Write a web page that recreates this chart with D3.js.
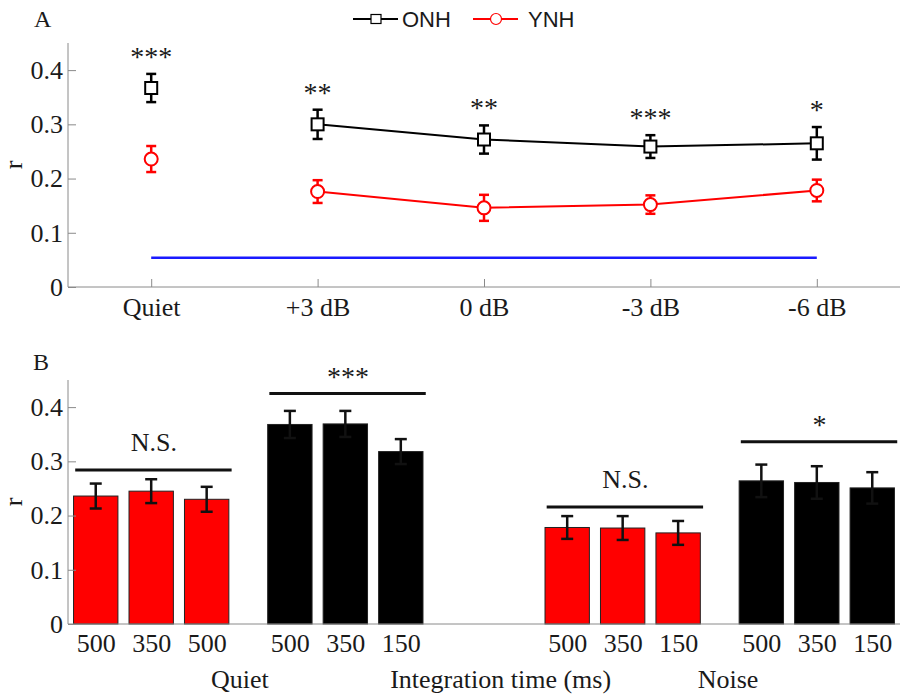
<!DOCTYPE html>
<html>
<head>
<meta charset="utf-8">
<script src="https://cdn.jsdelivr.net/npm/d3@7"></script>
<style>
	body { margin: 0; background: #fff; }
	svg text { font-family: "Liberation Serif", "Times New Roman", serif; fill: #1a1a1a; }
	.legend text { font-family: "Liberation Sans", Arial, sans-serif; }
	.axis path, .axis line { stroke: #8a8a8a; }
</style>
</head>
<body>
<svg id="chart" width="900" height="699"></svg>
<script>
// panel A: r by listening condition
var conditions = ["Quiet", "+3 dB", "0 dB", "-3 dB", "-6 dB"];
var onhMean = [0.367, 0.300, 0.272, 0.259, 0.265];
var onhErr = [0.026, 0.027, 0.026, 0.021, 0.030];
var ynhMean = [0.236, 0.176, 0.146, 0.152, 0.178];
var ynhErr = [0.024, 0.021, 0.024, 0.017, 0.020];
var starsA = ["***", "**", "**", "***", "*"];
var chanceLevel = 0.054;
var rTicks = [0, 0.1, 0.2, 0.3, 0.4];

// panel B: r by integration time
var barLabels = ["500", "350", "500", "500", "350", "150", "500", "350", "150", "500", "350", "150"];
var barSlots = [0, 1, 2, 3.5, 4.5, 5.5, 8.5, 9.5, 10.5, 12, 13, 14];
var barGroups = ["YNH", "YNH", "YNH", "ONH", "ONH", "ONH", "YNH", "YNH", "YNH", "ONH", "ONH", "ONH"];
var barValues = [0.236, 0.245, 0.230, 0.368, 0.369, 0.318, 0.178, 0.177, 0.168, 0.264, 0.261, 0.251];
var barErr = [0.023, 0.022, 0.023, 0.025, 0.024, 0.023, 0.021, 0.022, 0.022, 0.030, 0.030, 0.029];
var sigFrom = [0, 3.5, 8.5, 12];
var sigTo = [2, 5.5, 10.5, 14];
var sigLevel = [0.284, 0.425, 0.216, 0.336];
var sigText = ["N.S.", "***", "N.S.", "*"];
var groupNames = ["Quiet", "Integration time (ms)", "Noise"];
var groupSlots = [2.6, 7.3, 11.4];

var colors = { ONH: "#000000", YNH: "#ff0000" };
var fs = 26;

var svg = d3.select("#chart");

function yAxis(g, y) {
	var axis = d3.axisLeft(y).tickValues(rTicks).tickSize(-8).tickPadding(5)
		.tickFormat(function(d) { return d === 0 ? "0" : d3.format(".1f")(d); });
	g.call(axis);
	g.select(".domain").attr("d", "M0," + y.range()[0] + "V" + y.range()[1]);
	g.selectAll("text").attr("font-size", fs);
}

// ---------- panel A ----------
var xA = d3.scaleLinear().domain([-0.5, 4.5]).range([68, 900]);
var yA = d3.scaleLinear().domain([0, 0.45]).range([287, 43]);

var gA = svg.append("g");
gA.append("g").attr("class", "axis").attr("transform", "translate(68,0)").call(function(g) { yAxis(g, yA); });
var axA = gA.append("g").attr("class", "axis").attr("transform", "translate(0,287)")
	.call(d3.axisBottom(xA).tickValues(d3.range(conditions.length)).tickSize(-8).tickPadding(11)
		.tickFormat(function(d) { return conditions[d]; }));
axA.select(".domain").attr("d", "M68,0H900");
axA.selectAll("text").attr("font-size", fs);

gA.append("text").attr("x", 34).attr("y", 27).attr("font-size", 24).text("A");
gA.append("text").attr("transform", "translate(22,165) rotate(-90)").attr("text-anchor", "middle").attr("font-size", fs).text("r");

gA.append("line")
	.attr("x1", xA(0)).attr("x2", xA(conditions.length - 1))
	.attr("y1", yA(chanceLevel)).attr("y2", yA(chanceLevel))
	.attr("stroke", "#1a1aff").attr("stroke-width", 2.5);

function drawSeries(mean, err, color, marker) {
	var pts = mean.map(function(v, i) { return { i: i, v: v, e: err[i] }; });
	var line = d3.line().x(function(d) { return xA(d.i); }).y(function(d) { return yA(d.v); });
	gA.append("path").attr("d", line(pts.slice(1)))
		.attr("fill", "none").attr("stroke", color).attr("stroke-width", 2);
	var eb = gA.append("g").selectAll("g").data(pts).enter().append("g");
	eb.append("line")
		.attr("x1", function(d) { return xA(d.i); }).attr("x2", function(d) { return xA(d.i); })
		.attr("y1", function(d) { return yA(d.v + d.e); }).attr("y2", function(d) { return yA(d.v - d.e); })
		.attr("stroke", color).attr("stroke-width", 2.5);
	[1, -1].forEach(function(s) {
		eb.append("line")
			.attr("x1", function(d) { return xA(d.i) - 5; }).attr("x2", function(d) { return xA(d.i) + 5; })
			.attr("y1", function(d) { return yA(d.v + s * d.e); }).attr("y2", function(d) { return yA(d.v + s * d.e); })
			.attr("stroke", color).attr("stroke-width", 2.5);
	});
	if (marker === "square") {
		eb.append("rect")
			.attr("x", function(d) { return xA(d.i) - 6; }).attr("y", function(d) { return yA(d.v) - 6; })
			.attr("width", 12).attr("height", 12)
			.attr("fill", "#fff").attr("stroke", color).attr("stroke-width", 2);
	} else {
		eb.append("circle")
			.attr("cx", function(d) { return xA(d.i); }).attr("cy", function(d) { return yA(d.v); })
			.attr("r", 6.5).attr("fill", "#fff").attr("stroke", color).attr("stroke-width", 2);
	}
}
drawSeries(ynhMean, ynhErr, colors.YNH, "circle");
drawSeries(onhMean, onhErr, colors.ONH, "square");

gA.append("g").selectAll("text").data(starsA).enter().append("text")
	.attr("x", function(d, i) { return xA(i); })
	.attr("y", function(d, i) { return yA(onhMean[i] + onhErr[i]) - 8; })
	.attr("text-anchor", "middle").attr("font-size", 28).attr("fill", "#333")
	.text(function(d) { return d; });

// legend
var legend = svg.append("g").attr("class", "legend");
var legendItems = [
	{ name: "ONH", x: 353, color: colors.ONH, marker: "square" },
	{ name: "YNH", x: 473, color: colors.YNH, marker: "circle" }
];
legendItems.forEach(function(d) {
	var g = legend.append("g").attr("transform", "translate(" + d.x + ",19)");
	g.append("line").attr("x1", 0).attr("x2", 45).attr("stroke", d.color).attr("stroke-width", 2);
	if (d.marker === "square") {
		g.append("rect").attr("x", 18).attr("y", -4.5).attr("width", 10).attr("height", 9)
			.attr("fill", "#fff").attr("stroke", d.color).attr("stroke-width", 1.2);
	} else {
		g.append("circle").attr("cx", 23).attr("r", 5.5)
			.attr("fill", "#fff").attr("stroke", d.color).attr("stroke-width", 1.2);
	}
	g.append("text").attr("x", d.name === "ONH" ? 49 : 55).attr("y", 8).attr("font-size", 22).text(d.name);
});

// ---------- panel B ----------
var xB = d3.scaleLinear().domain([-0.5, 14.5]).range([68, 900]);
var yB = d3.scaleLinear().domain([0, 0.45]).range([624, 380]);
var bw = 0.8;

var gB = svg.append("g");
gB.append("text").attr("x", 33).attr("y", 370).attr("font-size", 24).text("B");
gB.append("text").attr("transform", "translate(22,502) rotate(-90)").attr("text-anchor", "middle").attr("font-size", fs).text("r");

var bars = barValues.map(function(v, i) {
	return { v: v, e: barErr[i], s: barSlots[i], g: barGroups[i], label: barLabels[i] };
});

gB.append("g").selectAll("rect").data(bars).enter().append("rect")
	.attr("x", function(d) { return xB(d.s - bw / 2); })
	.attr("width", xB(bw) - xB(0))
	.attr("y", function(d) { return yB(d.v); })
	.attr("height", function(d) { return yB(0) - yB(d.v); })
	.attr("fill", function(d) { return colors[d.g]; })
	.attr("stroke", "#222").attr("stroke-width", 1);

var ebB = gB.append("g").selectAll("g").data(bars).enter().append("g");
ebB.append("line")
	.attr("x1", function(d) { return xB(d.s); }).attr("x2", function(d) { return xB(d.s); })
	.attr("y1", function(d) { return yB(d.v + d.e); }).attr("y2", function(d) { return yB(d.v - d.e); })
	.attr("stroke", "#111").attr("stroke-width", 2.5);
[1, -1].forEach(function(s) {
	ebB.append("line")
		.attr("x1", function(d) { return xB(d.s) - 6; }).attr("x2", function(d) { return xB(d.s) + 6; })
		.attr("y1", function(d) { return yB(d.v + s * d.e); }).attr("y2", function(d) { return yB(d.v + s * d.e); })
		.attr("stroke", "#111").attr("stroke-width", 2.5);
});

gB.append("g").attr("class", "axis").attr("transform", "translate(68,0)").call(function(g) { yAxis(g, yB); });
var axB = gB.append("g").attr("class", "axis").attr("transform", "translate(0,624)")
	.call(d3.axisBottom(xB).tickValues(barSlots).tickSize(0).tickPadding(10)
		.tickFormat(function(d, i) { return barLabels[i]; }));
axB.select(".domain").attr("d", "M68,0H900");
axB.selectAll("text").attr("font-size", fs);

sigText.forEach(function(t, i) {
	var y = yB(sigLevel[i]);
	gB.append("line")
		.attr("x1", xB(sigFrom[i] - 0.37)).attr("x2", xB(sigTo[i] + 0.45))
		.attr("y1", y).attr("y2", y)
		.attr("stroke", "#111").attr("stroke-width", 3);
	gB.append("text")
		.attr("x", xB((sigFrom[i] + sigTo[i]) / 2 + 0.05))
		.attr("y", t === "N.S." ? y - 19 : y - 8)
		.attr("text-anchor", "middle").attr("font-size", t === "N.S." ? fs : 28)
		.attr("fill", t === "N.S." ? "#1a1a1a" : "#333")
		.text(t);
});

gB.append("g").selectAll("text").data(groupNames).enter().append("text")
	.attr("x", function(d, i) { return xB(groupSlots[i]); })
	.attr("y", 688)
	.attr("text-anchor", "middle").attr("font-size", fs)
	.text(function(d) { return d; });
</script>
</body>
</html>
